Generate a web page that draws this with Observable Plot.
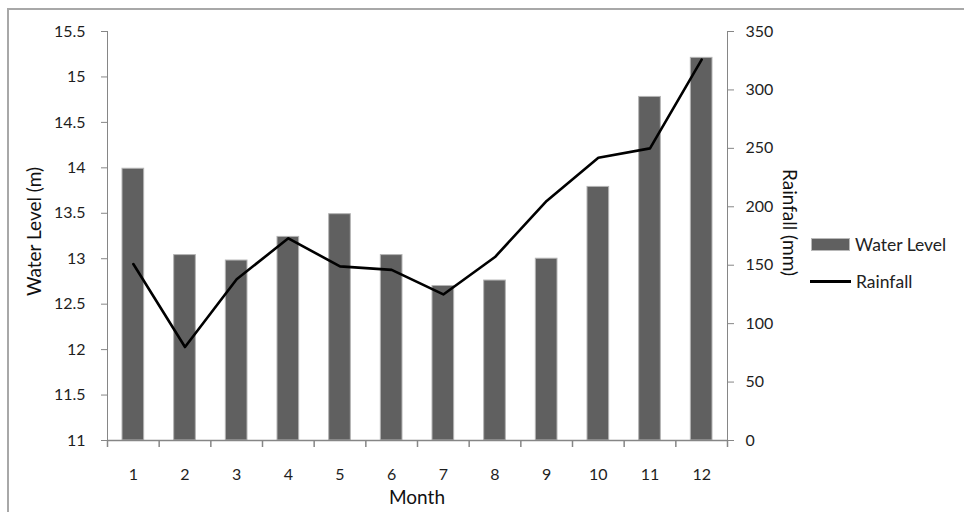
<!DOCTYPE html>
<html>
<head>
<meta charset="utf-8">
<script src="https://cdn.jsdelivr.net/npm/d3@7"></script>
<script src="https://cdn.jsdelivr.net/npm/@observablehq/plot@0.6"></script>
<style>
  body { margin: 0; background: #fff; font-family: Lato, "Open Sans", sans-serif; }
  #chart { position: relative; width: 964px; height: 512px; overflow: hidden; background: #fff; }
  #frame { position: absolute; left: 7px; top: 8px; width: 1000px; height: 600px;
           border-left: 2px solid #a8a8a8; border-top: 2px solid #a8a8a8; }
  #chart svg { position: absolute; left: 0; top: 0; }
  .title { position: absolute; font-size: 19px; color: #111; white-space: nowrap;
           transform-origin: center; }
  .legend-item { position: absolute; display: flex; align-items: center; font-size: 17.5px; color: #222; white-space: nowrap; }
  .sw-bar { width: 37px; height: 11px; background: #606060; border: 1px solid #b8b8b8; margin-right: 5px; }
  .sw-line { width: 41px; height: 0; border-top: 3px solid #000; margin-right: 5px; }
</style>
</head>
<body>
<div id="chart"><div id="frame"></div></div>
<script>
// Monthly water level (m) and rainfall (mm)
const months = [1, 2, 3, 4, 5, 6, 7, 8, 9, 10, 11, 12];
const waterLevel = [13.99, 13.04, 12.98, 13.24, 13.49, 13.04, 12.70, 12.76, 13.00, 13.79, 14.78, 15.21];
const rainfall = [151, 80, 138, 173, 149, 146, 125, 157, 205, 242, 250, 326];
const levelTicks = [11, 11.5, 12, 12.5, 13, 13.5, 14, 14.5, 15, 15.5];
const rainTicks = [0, 50, 100, 150, 200, 250, 300, 350];

const rows = months.map((m, i) => ({ month: m, level: waterLevel[i], rain: rainfall[i] }));

const W = 964, H = 512;
const margins = { marginTop: 31, marginRight: 237, marginBottom: 72, marginLeft: 107 };
const step = (W - margins.marginLeft - margins.marginRight) / months.length;
const axisGray = "#868686";
const font = { fontFamily: "Lato, 'Open Sans', sans-serif", fontSize: "16px", color: axisGray, background: "transparent", overflow: "visible" };

// Bars, left axis and category axis
const base = Plot.plot({
  width: W, height: H, ...margins,
  style: font,
  x: { type: "band", domain: months, padding: 0, round: false, tickSize: 0, tickPadding: 28, label: null },
  y: { domain: [11, 15.5], ticks: levelTicks, tickFormat: d => String(d), tickSize: 6, tickPadding: 16, label: null, line: true },
  marks: [
    Plot.barY(rows, { x: "month", y1: 11, y2: "level", fill: "#606060", stroke: "#b4b4b4", strokeWidth: 1, insetLeft: 15, insetRight: 15 }),
    Plot.ruleY([11], { stroke: axisGray, strokeWidth: 1.5 }),
    // tick marks between categories
    Plot.ruleX(months, { x: d => d, dx: -step / 2, stroke: axisGray, strokeWidth: 1.5, insetTop: H - margins.marginTop - margins.marginBottom, insetBottom: -7 }),
    Plot.ruleX(months.slice(-1), { x: d => d, dx: step / 2, stroke: axisGray, strokeWidth: 1.5, insetTop: H - margins.marginTop - margins.marginBottom, insetBottom: -7 })
  ]
});

// Rainfall line on its own right-hand axis
const over = Plot.plot({
  width: W, height: H, ...margins,
  style: font,
  x: { type: "band", domain: months, padding: 0, round: false, axis: null },
  y: { domain: [0, 350], ticks: rainTicks, axis: "right", tickSize: 6, tickPadding: 12, label: null, line: true },
  marks: [
    Plot.line(rows, { x: "month", y: "rain", stroke: "#000", strokeWidth: 2.6, strokeLinejoin: "round" })
  ]
});

for (const svg of [base, over]) {
  d3.select(svg).selectAll("text").attr("fill", "#1e1e1e");
}

const chart = document.getElementById("chart");
chart.appendChild(base);
chart.appendChild(over);

function addTitle(text, cx, cy, rot) {
  const el = document.createElement("div");
  el.className = "title";
  el.textContent = text;
  chart.appendChild(el);
  const w = el.offsetWidth, h = el.offsetHeight;
  el.style.left = (cx - w / 2) + "px";
  el.style.top = (cy - h / 2) + "px";
  if (rot) el.style.transform = `rotate(${rot}deg)`;
}
addTitle("Water Level (m)", 33, 231, -90);
addTitle("Rainfall (mm)", 790, 222, 90);
addTitle("Month", 417, 496, 0);

function addLegend(label, swClass, x, cy) {
  const el = document.createElement("div");
  el.className = "legend-item";
  const sw = document.createElement("span");
  sw.className = swClass;
  const t = document.createElement("span");
  t.textContent = label;
  el.appendChild(sw);
  el.appendChild(t);
  chart.appendChild(el);
  el.style.left = x + "px";
  el.style.top = (cy - el.offsetHeight / 2) + "px";
}
addLegend("Water Level", "sw-bar", 811, 244);
addLegend("Rainfall", "sw-line", 810, 281);
</script>
</body>
</html>
